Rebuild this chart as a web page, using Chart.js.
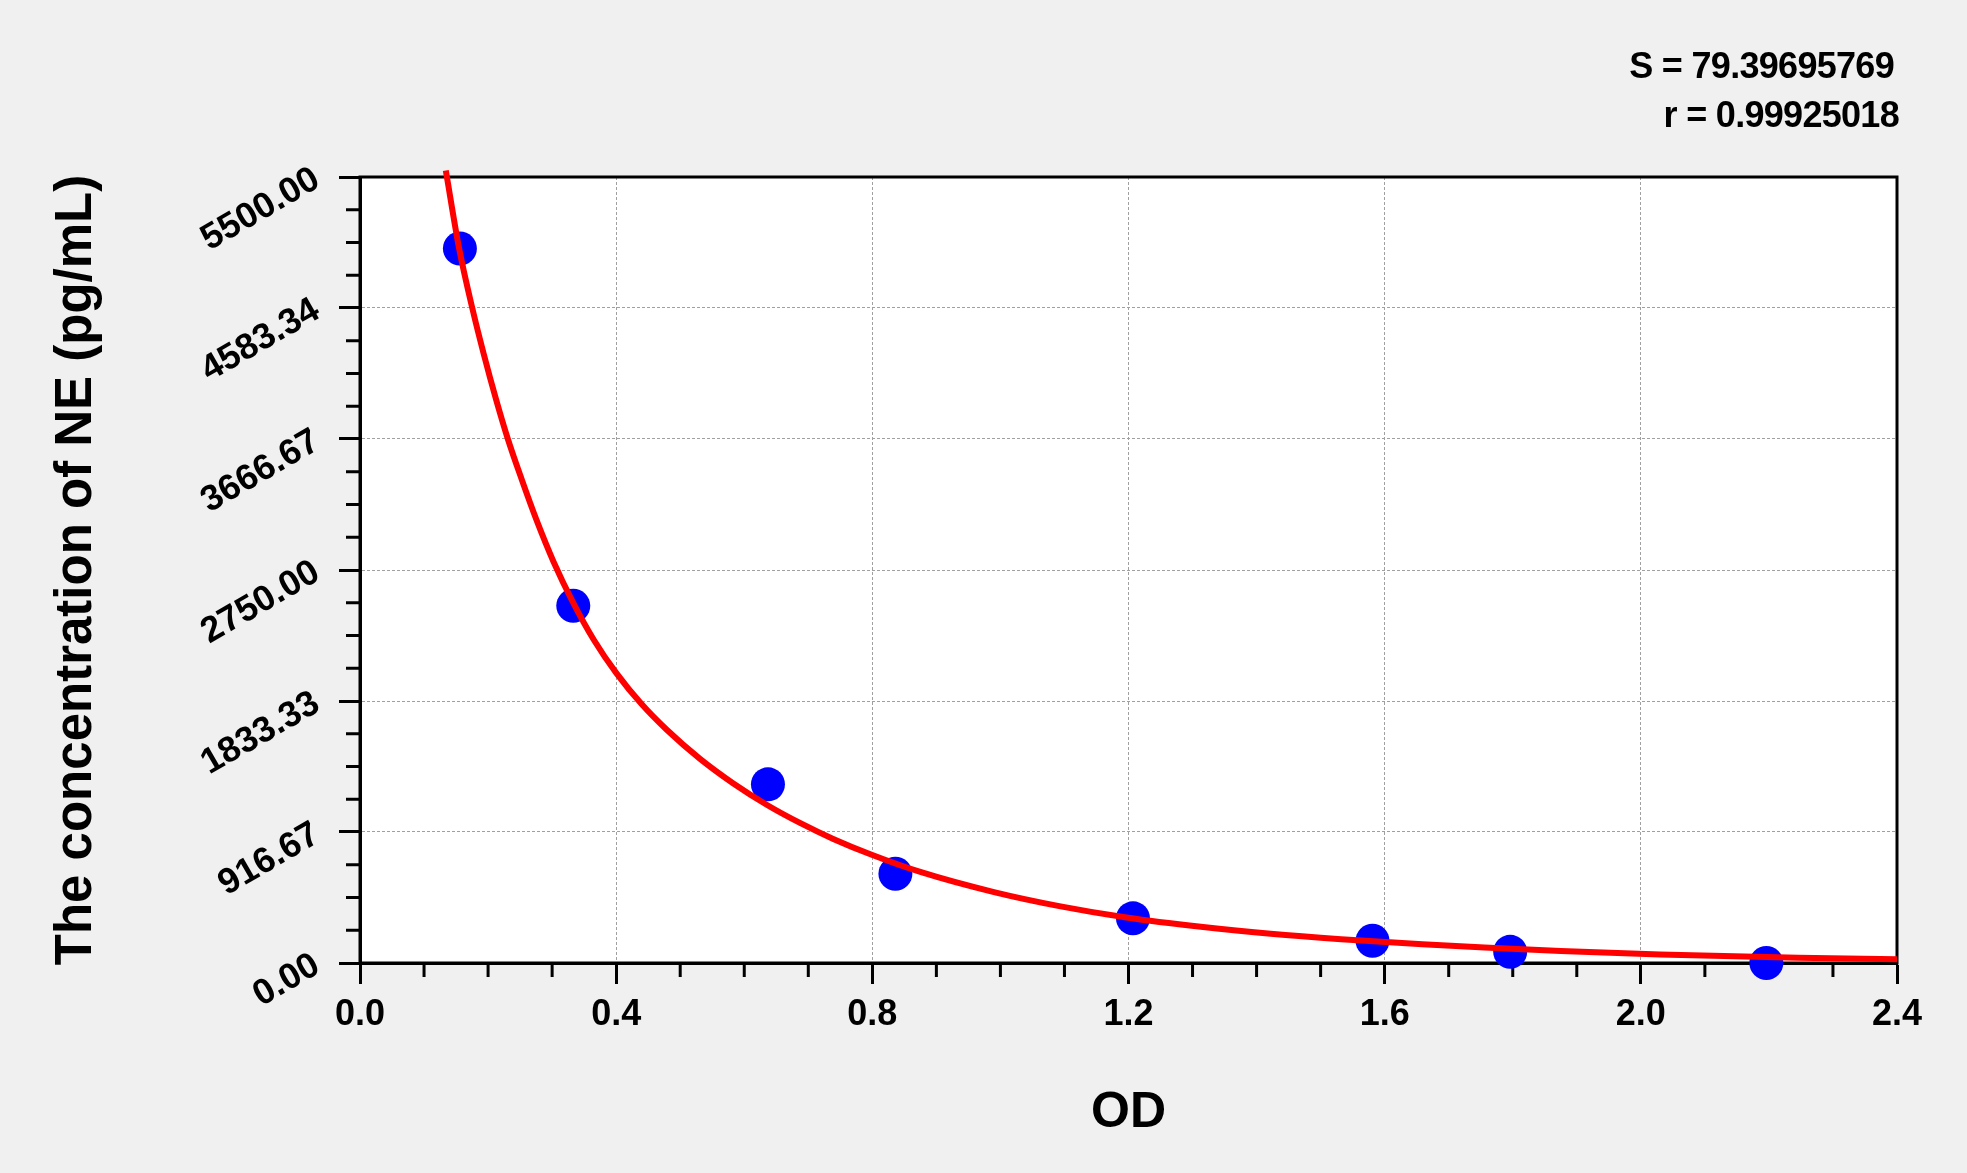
<!DOCTYPE html>
<html>
<head>
<meta charset="utf-8">
<title>NE standard curve</title>
<script src="https://cdn.jsdelivr.net/npm/chart.js@4.4.1/dist/chart.umd.min.js"></script>
<style>
    html, body { margin: 0; padding: 0; background: #f0f0f0; }
    canvas { display: block; }
</style>
</head>
<body>
<canvas id="stdCurve" width="1967" height="1173"></canvas>
<script>
// ─── DATA ───
// standards (OD vs pg/mL)
const standardOD = [0.156, 0.333, 0.637, 0.836, 1.207, 1.581, 1.796, 2.196];
const standardConc = [5000, 2500, 1250, 625, 312.5, 156.25, 78.125, 0];

// fitted curve
const curveOD = [0.134, 0.155, 0.176, 0.193, 0.213, 0.231, 0.252, 0.276, 0.302, 0.333,
    0.365, 0.400, 0.440, 0.479, 0.531, 0.583, 0.637, 0.687, 0.739, 0.798, 0.875, 0.990,
    1.094, 1.197, 1.313, 1.422, 1.532, 1.659, 1.756, 1.875, 2.030, 2.246, 2.400];
const curveConc = [5545, 4995, 4570, 4265, 3935, 3665, 3390, 3095, 2810, 2520,
    2262, 2030, 1810, 1632, 1428, 1256, 1102, 980, 868, 759, 637, 496,
    396, 318, 253, 205, 167, 131, 108, 84, 60, 37, 26];

const xTickValues = [0, 0.4, 0.8, 1.2, 1.6, 2.0, 2.4];
const xTickLabels = ["0.0", "0.4", "0.8", "1.2", "1.6", "2.0", "2.4"];
const yTickValues = [0, 916.67, 1833.33, 2750, 3666.67, 4583.34, 5500];
const yTickLabels = ["0.00", "916.67", "1833.33", "2750.00", "3666.67", "4583.34", "5500.00"];
const xMinorStep = 0.1;
const yMinorStep = 5500 / 24;

const fitStats = ["S = 79.39695769", "r = 0.99925018"];

const FONT = "'Liberation Sans', Arial, sans-serif";

// ─── PLOT FRAME, MINOR TICKS, FIT TEXT ───
const framePlugin = {
    id: "frame",
    beforeDraw(chart) {
        const { ctx, chartArea: a } = chart;
        ctx.save();
        ctx.fillStyle = "#f0f0f0";
        ctx.fillRect(0, 0, chart.width, chart.height);
        ctx.fillStyle = "#ffffff";
        ctx.fillRect(a.left, a.top, a.right - a.left, a.bottom - a.top);
        ctx.restore();
    },
    beforeDatasetsDraw(chart) {
        const { ctx, chartArea: a, scales } = chart;
        ctx.save();
        ctx.strokeStyle = "#000";
        ctx.lineWidth = 3;
        ctx.strokeRect(a.left, a.top, a.right - a.left, a.bottom - a.top);

        // minor ticks
        ctx.beginPath();
        for (let k = 1; k * xMinorStep < 2.4 - 1e-9; k++) {
            if (k % 4 === 0) continue;
            const px = scales.x.getPixelForValue(k * xMinorStep);
            ctx.moveTo(px, a.bottom);
            ctx.lineTo(px, a.bottom + 14);
        }
        for (let k = 1; k < 24; k++) {
            if (k % 4 === 0) continue;
            const py = scales.y.getPixelForValue(k * yMinorStep);
            ctx.moveTo(a.left, py);
            ctx.lineTo(a.left - 14, py);
        }
        ctx.stroke();
        ctx.restore();
    },
    afterDraw(chart) {
        const { ctx } = chart;
        ctx.save();
        ctx.fillStyle = "#000";
        ctx.font = `bold 36px ${FONT}`;
        ctx.textAlign = "right";
        ctx.textBaseline = "alphabetic";
        if ("letterSpacing" in ctx) ctx.letterSpacing = "-0.7px";
        ctx.fillText(fitStats[0], 1894, 78);
        ctx.fillText(fitStats[1], 1899, 127);
        ctx.restore();
    }
};

// ─── CHART ───
const ctx = document.getElementById("stdCurve").getContext("2d");

new Chart(ctx, {
    type: "scatter",
    data: {
        datasets: [{
            label: "Fit",
            data: curveOD.map((x, i) => ({ x: x, y: curveConc[i] })),
            showLine: true,
            borderColor: "#ff0000",
            borderWidth: 6,
            pointRadius: 0,
            cubicInterpolationMode: "monotone",
            clip: false,
            order: 0
        }, {
            label: "Standards",
            data: standardOD.map((x, i) => ({ x: x, y: standardConc[i] })),
            backgroundColor: "#0000ff",
            borderWidth: 0,
            pointRadius: 17,
            clip: false,
            order: 1
        }]
    },
    options: {
        responsive: false,
        animation: false,
        devicePixelRatio: 1,
        layout: { padding: { top: 177, right: 70, left: 0, bottom: 0 } },
        plugins: {
            legend: { display: false },
            tooltip: { enabled: false }
        },
        scales: {
            x: {
                type: "linear",
                min: 0,
                max: 2.4,
                afterBuildTicks: axis => { axis.ticks = xTickValues.map(v => ({ value: v })); },
                afterFit: axis => { axis.height = 210; },
                ticks: {
                    color: "#000",
                    padding: 9,
                    maxRotation: 0,
                    font: { family: FONT, size: 36, weight: "bold" },
                    callback: (v, i) => xTickLabels[i]
                },
                grid: { color: "#a0a0a0", lineWidth: 1, tickColor: "#000", tickWidth: 3, tickLength: 21 },
                border: { display: true, color: "#000", width: 3, dash: [3, 2] },
                title: {
                    display: true,
                    text: "OD",
                    color: "#000",
                    font: { family: FONT, size: 50, weight: "bold" },
                    padding: { top: 0, bottom: 30 }
                }
            },
            y: {
                type: "linear",
                min: 0,
                max: 5500,
                afterBuildTicks: axis => { axis.ticks = yTickValues.map(v => ({ value: v })); },
                afterFit: axis => { axis.width = 360; },
                ticks: {
                    color: "#000",
                    padding: 22,
                    minRotation: 30,
                    maxRotation: 30,
                    font: { family: FONT, size: 36, weight: "bold" },
                    callback: (v, i) => yTickLabels[i]
                },
                grid: { color: "#a0a0a0", lineWidth: 1, tickColor: "#000", tickWidth: 3, tickLength: 21 },
                border: { display: true, color: "#000", width: 3, dash: [3, 2] },
                title: {
                    display: true,
                    text: "The concentration of NE (pg/mL)",
                    color: "#000",
                    font: { family: FONT, size: 51, weight: "bold" },
                    padding: { top: 46, bottom: 0 }
                }
            }
        }
    },
    plugins: [framePlugin]
});
</script>
</body>
</html>
